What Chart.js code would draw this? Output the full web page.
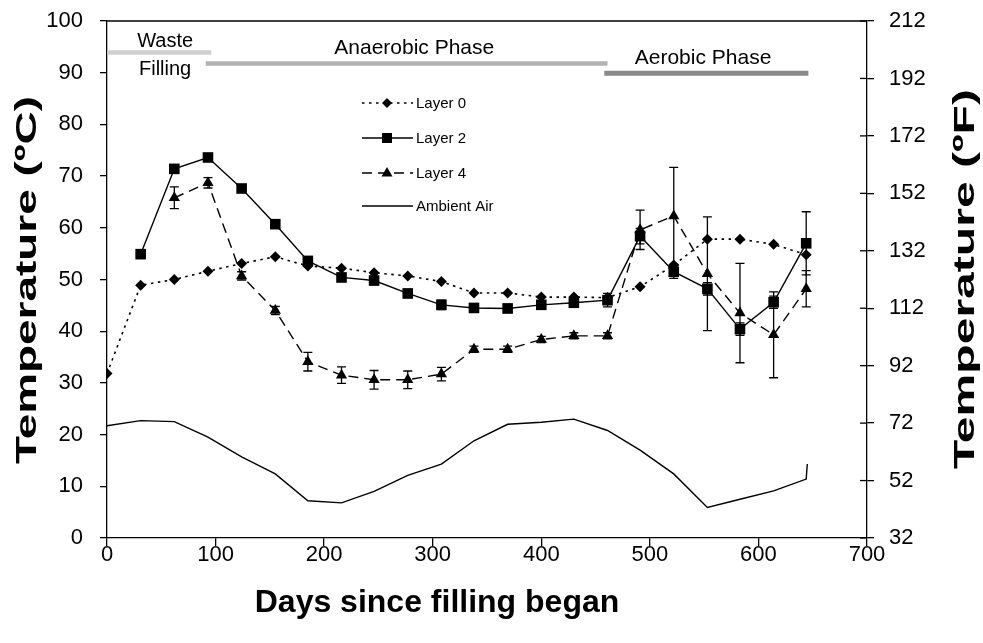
<!DOCTYPE html>
<html><head><meta charset="utf-8">
<script src="https://cdn.jsdelivr.net/npm/chart.js@4/dist/chart.umd.min.js"></script>
<style>html,body{margin:0;padding:0;background:#fff;}canvas{display:block;}</style>
</head><body>
<canvas id="c" width="983" height="643" style="width:983px;height:643px"></canvas>
<script>
// ---- data ----
const days    = [0,31,62,93,124,155,185,216,246,277,308,338,369,400,430,461,491,522,553,583,614,644];
const layer0  = [31.8,48.9,50.0,51.6,53.1,54.4,52.6,52.2,51.3,50.7,49.6,47.4,47.4,46.6,46.6,46.5,48.6,52.8,57.8,57.8,56.8,54.8];
const layer2  = [null,54.9,71.4,73.6,67.6,60.7,53.6,50.4,49.8,47.3,45.1,44.5,44.4,45.1,45.5,46.0,58.4,51.5,48.2,40.4,45.6,57.0];
const layer2Err = [0,0.5,0.5,0.5,0.5,0.5,0.8,0.8,0.8,0.8,0.9,0.8,0.8,0.8,0.7,1.3,1.5,1.3,1.2,1.2,1.2,6.1];
const layer4  = [null,null,65.8,68.7,50.7,44.0,34.1,31.5,30.6,30.6,31.7,36.5,36.5,38.4,39.1,39.1,59.6,62.3,51.1,43.5,39.3,48.2];
const layer4Err = [0,0,2.1,1.0,0.8,0.8,1.8,1.6,1.8,1.7,1.3,0.6,0.6,0.6,0.6,0.6,3.8,9.4,11.0,9.6,8.3,3.5];
const ambientDays = [0,31,62,93,124,155,185,216,246,277,308,338,369,400,430,461,491,522,553,583,614,644,645];
const ambientAir  = [21.7,22.7,22.5,19.5,15.7,12.4,7.2,6.8,9.0,12.1,14.3,18.8,22.0,22.4,23.0,20.8,17.0,12.4,5.9,7.5,9.1,11.4,14.3];
const phaseLabels = ['Waste Filling','Anaerobic Phase','Aerobic Phase'];
const phaseStart  = [0,91,458];
const phaseEnd    = [96,461,646];
const phaseLevel  = [93.9,91.8,89.9];
const seriesNames = ['Layer 0','Layer 2','Layer 4','Ambient Air'];
const xTitle = 'Days since filling began';
const yTitle = 'Temperature (ºC)';
const y2Title = 'Temperature (ºF)';

const FONT = '"Liberation Sans", Arial, sans-serif';
const pts = (xs, ys) => xs.map((x,i)=>({x, y: ys[i]})).filter(p=>p.y!==null);
const phaseColors = ['#cfcfcf','#b2b2b2','#8a8a8a'];

const datasets = [
  {label:seriesNames[0], data:pts(days,layer0), borderColor:'#000', backgroundColor:'#000', borderWidth:1.6,
   borderDash:[2.5,4.5], pointStyle:'rectRot', pointRadius:5.5, pointBorderWidth:0, order:1},
  {label:seriesNames[1], data:pts(days,layer2), borderColor:'#000', backgroundColor:'#000', borderWidth:1.4,
   pointStyle:'rect', pointRadius:7.5, pointBorderWidth:0, order:2},
  {label:seriesNames[2], data:pts(days,layer4), borderColor:'#000', backgroundColor:'#000', borderWidth:1.4,
   borderDash:[10,6], pointStyle:'triangle', pointRadius:6.5, pointBorderWidth:0, order:3},
  {label:seriesNames[3], data:pts(ambientDays,ambientAir), borderColor:'#000', borderWidth:1.4, pointRadius:0, order:4},
];
phaseLabels.forEach((n,i)=>{
  datasets.push({label:n, data:[{x:phaseStart[i],y:phaseLevel[i]},{x:phaseEnd[i],y:phaseLevel[i]}],
    borderColor:phaseColors[i], borderWidth:i==2?5:4.5, pointRadius:0, order:5});
});

const layerErrs = [[layer2, layer2Err],[layer4, layer4Err]];

const extras = {
  id:'extras',
  afterDatasetsDraw(chart){
    const ctx = chart.ctx, xs = chart.scales.x, ys = chart.scales.y, y2 = chart.scales.y2;
    const ca = chart.chartArea;
    ctx.save();
    // error bars
    ctx.strokeStyle = '#000'; ctx.lineWidth = 1.3; ctx.setLineDash([]);
    layerErrs.forEach(([vals, errs])=>{
      vals.forEach((v,i)=>{
        if(v===null || !errs[i]) return;
        const x = xs.getPixelForValue(days[i]);
        const a = ys.getPixelForValue(v+errs[i]), b = ys.getPixelForValue(v-errs[i]);
        ctx.beginPath();
        ctx.moveTo(x,a); ctx.lineTo(x,b);
        ctx.moveTo(x-4.5,a); ctx.lineTo(x+4.5,a);
        ctx.moveTo(x-4.5,b); ctx.lineTo(x+4.5,b);
        ctx.stroke();
      });
    });
    // top border
    ctx.lineWidth = 1.3;
    ctx.beginPath(); ctx.moveTo(ca.left, ca.top); ctx.lineTo(ca.right, ca.top); ctx.stroke();
    // inner ticks on right axis
    y2.ticks.forEach(t=>{
      const y = y2.getPixelForValue(t.value);
      ctx.beginPath(); ctx.moveTo(ca.right-7, y); ctx.lineTo(ca.right, y); ctx.stroke();
    });
    // phase labels
    ctx.fillStyle = '#000';
    ctx.font = '20px ' + FONT;
    ctx.textAlign = 'center'; ctx.textBaseline = 'alphabetic';
    const wx = xs.getPixelForValue((phaseStart[0]+phaseEnd[0])/2) + 6;
    ctx.fillText('Waste', wx, 47);
    ctx.fillText('Filling', wx, 75);
    ctx.font = '21px ' + FONT;
    ctx.fillText(phaseLabels[1], xs.getPixelForValue(283), 54);
    ctx.fillText(phaseLabels[2], xs.getPixelForValue(549), 64);
    // legend
    const rows = [103,138,173,206];
    const lx0 = 362, lx1 = 413, mx = 387;
    ctx.textAlign = 'left'; ctx.textBaseline = 'middle';
    ctx.font = '15px ' + FONT;
    for(let i=0;i<4;i++){
      const ds = datasets[i], y = rows[i];
      ctx.lineWidth = ds.borderWidth;
      ctx.setLineDash(ds.borderDash || []);
      ctx.beginPath(); ctx.moveTo(lx0,y); ctx.lineTo(lx1,y); ctx.stroke();
      ctx.setLineDash([]);
      ctx.beginPath();
      if(ds.pointStyle==='rectRot'){ const r=5; ctx.moveTo(mx-r,y); ctx.lineTo(mx,y-r); ctx.lineTo(mx+r,y); ctx.lineTo(mx,y+r); ctx.closePath(); ctx.fill(); }
      else if(ds.pointStyle==='rect'){ ctx.rect(mx-5,y-5,10,10); ctx.fill(); }
      else if(ds.pointStyle==='triangle'){ ctx.moveTo(mx,y-6); ctx.lineTo(mx+5.5,y+3.5); ctx.lineTo(mx-5.5,y+3.5); ctx.closePath(); ctx.fill(); }
      ctx.fillText(ds.label, 416, y+1);
    }
    ctx.restore();
  },
  afterDraw(chart){
    const ctx = chart.ctx;
    ctx.save();
    ctx.fillStyle = '#000';
    ctx.font = 'bold 32px ' + FONT;
    ctx.textAlign = 'center'; ctx.textBaseline = 'middle';
    ctx.fillText(xTitle, 437, 603);
    const drawV = (txt, cx, cy, len) => {
      ctx.save();
      ctx.translate(cx, cy); ctx.rotate(-Math.PI/2);
      const w = ctx.measureText(txt).width;
      ctx.scale(len/w, 1);
      ctx.fillText(txt, 0, 0);
      ctx.restore();
    };
    ctx.font = 'bold 30px ' + FONT;
    drawV(yTitle, 28, 280, 368);
    drawV(y2Title, 966, 279, 380);
    ctx.restore();
  }
};

const tickFont = {family: FONT, size: 22};
const fixV = w => s => { s.width = w; s.paddingTop = 0; s.paddingBottom = 0; };
new Chart(document.getElementById('c'), {
  type:'line',
  data:{datasets},
  options:{
    responsive:false, animation:false, devicePixelRatio:1,
    layout:{padding:{top:21,left:0,right:0,bottom:0}},
    plugins:{legend:{display:false}, tooltip:{enabled:false}},
    elements:{line:{tension:0}},
    scales:{
      x:{type:'linear', min:0, max:700,
         ticks:{stepSize:100, color:'#000', font:tickFont, padding:-4, maxRotation:0, autoSkip:false},
         grid:{drawOnChartArea:false, drawTicks:true, tickLength:8, color:'#000', lineWidth:1.3},
         border:{display:true, color:'#000', width:1.3},
         afterFit(s){ s.height = 105; s.paddingLeft = 0; s.paddingRight = 0; }},
      y:{position:'left', min:0, max:100,
         ticks:{stepSize:10, color:'#000', font:tickFont, padding:17},
         grid:{drawOnChartArea:false, drawTicks:true, tickLength:7, color:'#000', lineWidth:1.3},
         border:{display:true, color:'#000', width:1.3},
         afterFit: fixV(107)},
      y2:{position:'right', min:32, max:212,
         ticks:{stepSize:20, color:'#000', font:tickFont, padding:15},
         grid:{drawOnChartArea:false, drawTicks:true, tickLength:7, color:'#000', lineWidth:1.3},
         border:{display:true, color:'#000', width:1.3},
         afterFit: fixV(116)}
    }
  },
  plugins:[extras]
});
</script>
</body></html>
